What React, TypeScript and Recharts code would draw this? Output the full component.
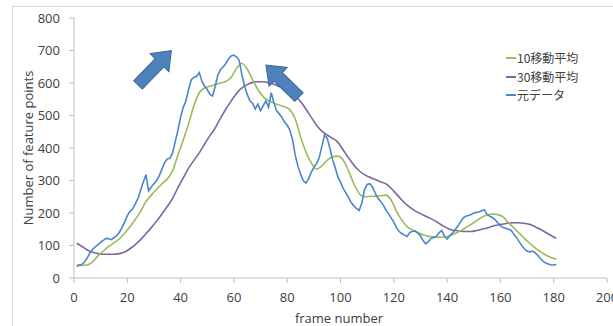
import { LineChart, Line, XAxis, YAxis } from 'recharts';

// raw feature point counts, one value per frame (1..181)
const rawValues = [
  35, 40, 42, 50, 62, 78, 88, 96, 103, 110,
  116, 122, 121, 118, 124, 130, 140, 155, 172, 192,
  205, 212, 228, 245, 270, 295, 318, 268, 280, 290,
  300, 315, 335, 355, 366, 368, 385, 420, 455, 495,
  525, 545, 580, 610, 618, 620, 632, 605, 590, 580,
  565, 560, 590, 625, 642, 650, 660, 675, 683, 686,
  680, 670, 625, 590, 565, 545, 538, 520, 535, 515,
  530, 545, 525, 570, 540, 515, 505, 495, 480, 470,
  455, 425, 378, 345, 320, 300, 292, 305, 325, 340,
  352, 370, 405, 440, 430, 400, 365, 340, 312, 295,
  276, 262, 248, 232, 222, 214, 208, 230, 272, 288,
  290, 280, 262, 246, 236, 225, 210, 198, 185, 172,
  155, 143, 137, 132, 128, 140, 143, 145, 138, 130,
  115, 105, 112, 122, 125, 128, 140, 146, 128, 120,
  130, 138, 148, 160, 172, 185, 190, 192, 195, 200,
  202, 203, 207, 210, 196, 190, 186, 180, 170, 160,
  155, 153, 150, 147, 135, 125, 112, 100, 90, 83,
  80, 83, 78, 70, 60, 52, 46, 43, 40, 40,
  42,
];

// moving averages, read at odd frames (1, 3, 5 ... 181)
const ma10Values = [
  40, 39, 40, 50, 68, 83, 97, 108, 120, 138,
  158, 180, 205, 235, 255, 273, 290, 305, 330, 378,
  425, 475, 530, 570, 585, 590, 595, 600, 605, 618,
  645, 660, 643, 610, 580, 558, 545, 538, 532, 527,
  518, 490, 435, 388, 355, 335, 345, 362, 373, 375,
  363, 330, 290, 260, 250, 251, 252, 253, 255, 240,
  205, 178, 158, 148, 140, 133, 128, 126, 125, 126,
  130, 137, 145, 155, 165, 176, 187, 194, 197, 195,
  188, 170, 155, 138, 122, 107, 93, 81, 71, 63,
  58,
];

const ma30Values = [
  107, 97, 86, 79, 75, 73, 73, 73, 75, 80,
  90, 103, 118, 136, 155, 175, 197, 220, 245, 278,
  308, 338, 362, 385, 412, 438, 462, 492, 520, 545,
  568, 585, 595, 602, 604, 604, 601, 596, 589, 582,
  573, 560, 543, 520, 495, 470, 452, 440, 430, 418,
  394, 370, 348, 330, 318, 310, 303, 296, 290, 276,
  258, 240, 224, 212, 202, 194, 186, 178, 168, 158,
  150, 146, 144, 143, 143, 146, 150, 154, 159, 163,
  166, 169, 170, 170, 168, 165, 158, 150, 140, 131,
  122,
];

const xTicks = [0, 20, 40, 60, 80, 100, 120, 140, 160, 180, 200];
const yTicks = [0, 100, 200, 300, 400, 500, 600, 700, 800];

const legendItems = [
  { name: '10移動平均', color: '#9bbb59' },
  { name: '30移動平均', color: '#8064a2' },
  { name: '元データ', color: '#4a86cc' },
];

const chartData = rawValues.map((v, i) => {
  const frame = i + 1;
  const row: { frame: number; raw: number; ma10?: number; ma30?: number } = { frame, raw: v };
  if (frame % 2 === 1) {
    const j = (frame - 1) / 2;
    row.ma10 = ma10Values[j];
    row.ma30 = ma30Values[j];
  }
  return row;
});

function Arrow({ x, y, angle, len }: { x: number; y: number; angle: number; len: number }) {
  const h = 17;
  const pts = [
    [0, -6], [len - h, -6], [len - h, -13], [len, 0], [len - h, 13], [len - h, 6], [0, 6],
  ].map(p => p.join(',')).join(' ');
  return (
    <polygon
      points={pts}
      transform={`translate(${x},${y}) rotate(${angle})`}
      fill="#4f81bd"
      stroke="#3b6497"
      strokeWidth={1}
    />
  );
}

export default function App() {
  const axisTick = { fill: '#404040', fontSize: 13, fontFamily: '"Open Sans", sans-serif' };
  return (
    <div style={{ position: 'absolute', left: 0, top: 0, width: 613, height: 326, overflow: 'hidden', background: '#fff' }}>
      <div style={{ position: 'absolute', left: 12, top: 6, width: 700, height: 400, border: '1px solid #d9d9d9' }} />
      <div style={{ position: 'absolute', left: 0, top: 0 }}>
        <LineChart width={613} height={326} data={chartData} margin={{ top: 18, right: 6, bottom: 18, left: 34 }}>
          <XAxis
            type="number"
            dataKey="frame"
            domain={[0, 200]}
            ticks={xTicks}
            interval={0}
            height={30}
            tickSize={5}
            tickMargin={10}
            stroke="#bfbfbf"
            tick={axisTick}
          />
          <YAxis
            type="number"
            domain={[0, 800]}
            ticks={yTicks}
            interval={0}
            width={40}
            tickSize={5}
            tickMargin={9}
            stroke="#bfbfbf"
            tick={axisTick}
          />
          <Line type="monotone" dataKey="ma30" stroke="#8064a2" strokeWidth={1.6} dot={false} connectNulls isAnimationActive={false} />
          <Line type="monotone" dataKey="ma10" stroke="#9bbb59" strokeWidth={1.6} dot={false} connectNulls isAnimationActive={false} />
          <Line type="linear" dataKey="raw" stroke="#4a86cc" strokeWidth={1.6} dot={false} isAnimationActive={false} />
        </LineChart>
      </div>
      <svg width={613} height={326} style={{ position: 'absolute', left: 0, top: 0, pointerEvents: 'none' }}>
        <Arrow x={138} y={85} angle={-46} len={48} />
        <Arrow x={299} y={97} angle={-136} len={46} />
      </svg>
      <div
        style={{
          position: 'absolute', left: 28, top: 148, transform: 'translate(-50%, -50%) rotate(-90deg)',
          whiteSpace: 'nowrap', fontSize: 13, color: '#404040', fontFamily: '"Open Sans", sans-serif',
        }}
      >
        Number of feature points
      </div>
      <div
        style={{
          position: 'absolute', left: 339, top: 318, transform: 'translate(-50%, -50%)',
          whiteSpace: 'nowrap', fontSize: 13, color: '#404040', fontFamily: '"Open Sans", sans-serif',
        }}
      >
        frame number
      </div>
      <div style={{ position: 'absolute', left: 506, top: 49 }}>
        {legendItems.map(item => (
          <div key={item.name} style={{ display: 'flex', alignItems: 'center', height: 18.5 }}>
            <span style={{ display: 'inline-block', width: 10, height: 2, background: item.color, marginRight: 1 }} />
            <span style={{ fontSize: 12, color: '#404040', fontFamily: '"Noto Sans CJK JP", sans-serif', lineHeight: '18px' }}>
              {item.name}
            </span>
          </div>
        ))}
      </div>
    </div>
  );
}
